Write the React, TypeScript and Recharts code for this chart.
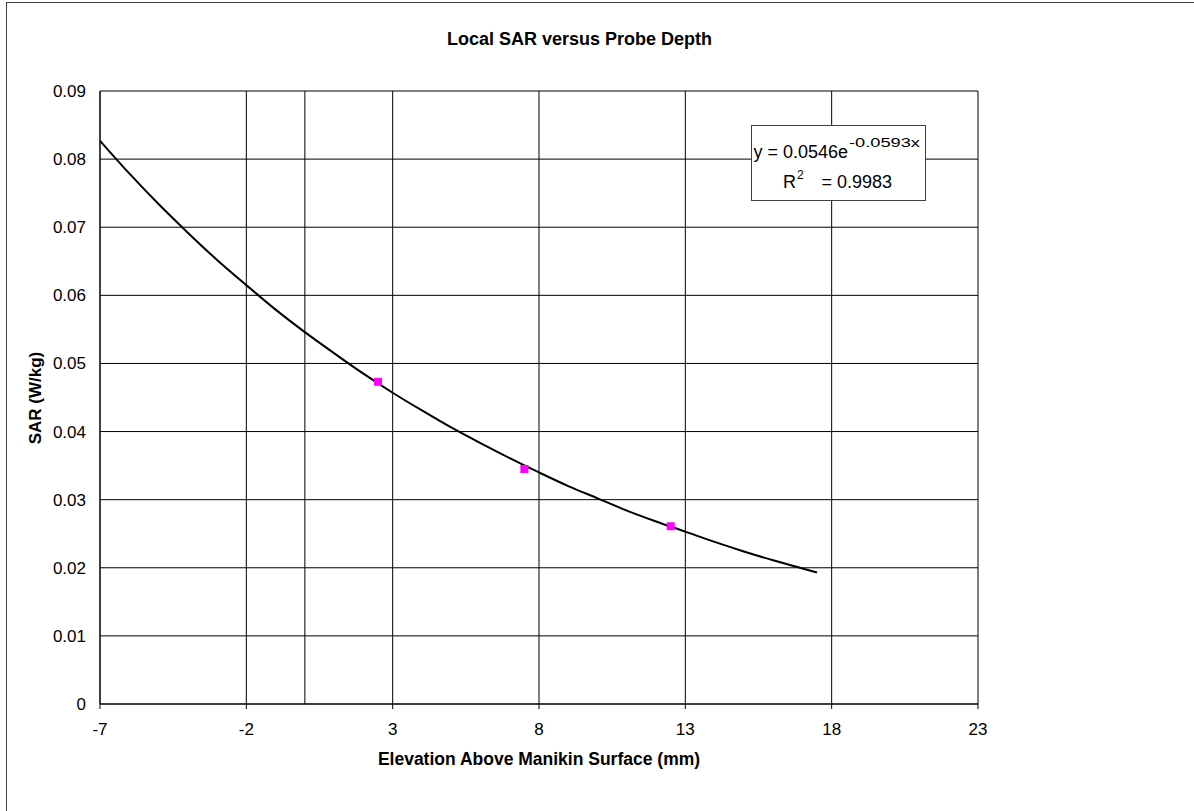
import React from 'react';
import { ComposedChart, XAxis, YAxis, CartesianGrid, Scatter, Line, ReferenceLine } from 'recharts';

// measured points (mm, W/kg)
const depth = [2.5, 7.5, 12.5];
const sar = [0.0473, 0.0345, 0.0261];

// exponential trendline
const trendX = [-7, -6, -5, -4, -3, -2, -1, 0, 1, 2, 3, 4, 5, 6, 7, 8, 9, 10, 11, 12, 13, 14, 15, 16, 17, 17.5];
const trendY = [
    0.0827, 0.0779, 0.0734, 0.0692, 0.0652, 0.0615, 0.0579, 0.0546, 0.0515, 0.0485, 0.0457, 0.0431, 0.0406,
    0.0383, 0.0361, 0.034, 0.032, 0.0302, 0.0284, 0.0268, 0.0253, 0.0238, 0.0224, 0.0211, 0.0199, 0.0193,
];

const xTicks = [-7, -2, 3, 8, 13, 18, 23];
const yTicks = [0, 0.01, 0.02, 0.03, 0.04, 0.05, 0.06, 0.07, 0.08, 0.09];

const points = depth.map((x, i) => ({ x, y: sar[i] }));
const trend = trendX.map((x, i) => ({ x, y: trendY[i] }));

const font = 'Arial, "Liberation Sans", sans-serif';

const App = () => {
    return (
        <div style={{ position: 'absolute', left: 0, top: 0, width: 1194, height: 811, background: '#fff' }}>
            <ComposedChart
                width={1194}
                height={811}
                margin={{ top: 91, right: 216, left: 0, bottom: 77 }}
            >
                <CartesianGrid stroke="#000" strokeWidth={1} horizontalValues={yTicks} verticalValues={xTicks} />
                <XAxis
                    type="number"
                    dataKey="x"
                    domain={[-7, 23]}
                    ticks={xTicks}
                    height={30}
                    tickSize={5}
                    tickMargin={14}
                    stroke="#000"
                    tick={{ fill: '#000', fontSize: 17, fontFamily: font }}
                    allowDataOverflow
                />
                <YAxis
                    type="number"
                    dataKey="y"
                    domain={[0, 0.09]}
                    ticks={yTicks}
                    width={100}
                    tickSize={0}
                    tickMargin={14}
                    stroke="#000"
                    tick={{ fill: '#000', fontSize: 17, fontFamily: font }}
                    tickFormatter={(v: number) => (v === 0 ? '0' : String(v))}
                    allowDataOverflow
                />
                <ReferenceLine x={0} stroke="#000" strokeWidth={1} />
                <Scatter data={points} fill="#FF00FF" shape="square" isAnimationActive={false} />
                <Line
                    data={trend}
                    dataKey="y"
                    type="monotone"
                    stroke="#000"
                    strokeWidth={2}
                    dot={false}
                    activeDot={false}
                    isAnimationActive={false}
                />
            </ComposedChart>
            <svg
                width={1194}
                height={811}
                style={{ position: 'absolute', left: 0, top: 0, pointerEvents: 'none' }}
                fontFamily={font}
            >
                <rect x={6.5} y={2.5} width={1220} height={840} fill="none" stroke="#404040" strokeWidth={1} />
                <text x={447} y={45} fontSize={18} fontWeight="bold" fill="#000">
                    Local SAR versus Probe Depth
                </text>
                <text x={539} y={765} textAnchor="middle" fontSize={17.5} fontWeight="bold" fill="#000">
                    Elevation Above Manikin Surface (mm)
                </text>
                <text
                    x={41}
                    y={398}
                    transform="rotate(-90 41 398)"
                    textAnchor="middle"
                    fontSize={17}
                    fontWeight="bold"
                    fill="#000"
                >
                    SAR (W/kg)
                </text>
                <rect x={751.5} y={125.5} width={174} height={75} fill="#fff" stroke="#404040" strokeWidth={1} />
                <text x={848} y={158} textAnchor="end" fontSize={18} fill="#000">
                    y = 0.0546e
                </text>
                <text x={849} y={147} fontSize={13} fill="#000" textLength={71} lengthAdjust="spacingAndGlyphs">
                    -0.0593x
                </text>
                <text x={783} y={188} fontSize={18} fill="#000">
                    R
                </text>
                <text x={797} y={179} fontSize={12} fill="#000">
                    2
                </text>
                <text x={892} y={188} textAnchor="end" fontSize={18} fill="#000">
                    = 0.9983
                </text>
            </svg>
        </div>
    );
};

export default App;
